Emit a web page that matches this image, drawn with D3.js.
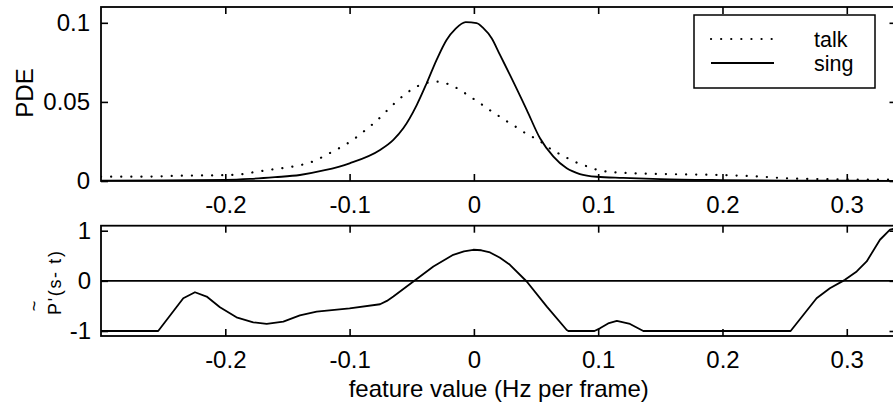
<!DOCTYPE html>
<html>
<head>
<meta charset="utf-8">
<script src="https://cdn.jsdelivr.net/npm/d3@7"></script>
<style>
  body { margin: 0; background: #fff; }
  svg { display: block; }
  text { font-family: "Liberation Sans", Arial, Helvetica, sans-serif; fill: #000; }
</style>
</head>
<body>
<div id="chart"></div>
<script>
var svgWidth = 893;
var svgHeight = 409;

// x ticks shared by both panels
var xTicks = [-0.2, -0.1, 0, 0.1, 0.2, 0.3];
var xTickLabels = ["-0.2", "-0.1", "0", "0.1", "0.2", "0.3"];

// top panel: PDE ticks
var pdeTicks = [0, 0.05, 0.1];
var pdeTickLabels = ["0", "0.05", "0.1"];

// bottom panel ticks
var diffTicks = [-1, 0, 1];
var diffTickLabels = ["-1", "0", "1"];

// talk (dotted)
var talkX = [-0.30, -0.26, -0.239, -0.20, -0.185, -0.1746, -0.1556, -0.145, -0.137, -0.128, -0.120,
  -0.1117, -0.1037, -0.0957, -0.0882, -0.0815, -0.0742, -0.0675, -0.0608, -0.0536, -0.046,
  -0.0372, -0.0286, -0.0192, -0.0112, -0.0032, 0.0049, 0.0124, 0.020, 0.0282, 0.0357, 0.0438,
  0.0518, 0.059, 0.067, 0.0755, 0.084, 0.092, 0.0995, 0.11, 0.128, 0.16, 0.198, 0.23, 0.2516,
  0.289, 0.34];
var talkPDE = [0.0027, 0.0028, 0.0033, 0.0037, 0.0045, 0.0059, 0.0080, 0.0092, 0.0105, 0.0128, 0.0160,
  0.0194, 0.0228, 0.0270, 0.0316, 0.0359, 0.0411, 0.0464, 0.0513, 0.0559, 0.0597,
  0.0622, 0.0628, 0.0608, 0.0576, 0.0534, 0.0492, 0.0450, 0.0411, 0.0369, 0.0333, 0.0291,
  0.0260, 0.0217, 0.0179, 0.0144, 0.0112, 0.0090, 0.0070, 0.0057, 0.0049, 0.0043, 0.0038, 0.0028, 0.0017,
  0.0011, 0.0008];

// sing (solid)
var singX = [-0.30, -0.25, -0.20, -0.18, -0.16, -0.14, -0.12, -0.10, -0.0755, -0.0648, -0.0568,
  -0.046, -0.038, -0.030, -0.022, -0.015, -0.0066, 0.0022, 0.0076, 0.0143, 0.021, 0.029,
  0.0425, 0.0532, 0.064, 0.0747, 0.0853, 0.0988, 0.12, 0.15, 0.20, 0.25, 0.30, 0.34];
var singPDE = [0.0002, 0.0004, 0.0007, 0.0013, 0.0024, 0.0038, 0.0068, 0.0112, 0.0196, 0.0260, 0.0333,
  0.0480, 0.0618, 0.0766, 0.0892, 0.0960, 0.1004, 0.0998, 0.0966, 0.0903, 0.0797, 0.0671,
  0.0450, 0.0270, 0.0154, 0.0080, 0.0044, 0.0027, 0.0020, 0.0012, 0.0006, 0.0003, 0.0002, 0.0001];

// bottom panel curve
var diffX = [-0.30, -0.254, -0.2338, -0.2244, -0.215, -0.2043, -0.191, -0.1775, -0.1667, -0.1533,
  -0.140, -0.1265, -0.10, -0.0755, -0.07, -0.0648, -0.0487, -0.0326, -0.0166, -0.008, -0.0005,
  0.006, 0.013, 0.021, 0.029, 0.0425, 0.0587, 0.0747, 0.076, 0.097, 0.1014, 0.108, 0.115, 0.1256,
  0.1363, 0.2548, 0.2757, 0.2864, 0.2985, 0.308, 0.316, 0.3267, 0.3348, 0.34];
var diffY = [-1, -1, -0.346, -0.227, -0.313, -0.527, -0.727, -0.827, -0.86, -0.813,
  -0.69, -0.613, -0.547, -0.467, -0.40, -0.313, -0.013, 0.287, 0.52, 0.59, 0.62,
  0.61, 0.567, 0.46, 0.32, -0.013, -0.513, -0.98, -1, -1, -0.947, -0.85, -0.8, -0.86,
  -1, -1, -0.346, -0.147, 0.02, 0.187, 0.387, 0.82, 1.02, 1.05];

var seriesNames = ["talk", "sing"];

var svg = d3.select("#chart")
  .append("svg")
  .attr("width", svgWidth)
  .attr("height", svgHeight);

var xScale = d3.scaleLinear()
  .domain([-0.3, 0.34])
  .range([101, 896.5]);

var yTop = d3.scaleLinear()
  .domain([0, 0.11])
  .range([181, 7]);

var yBot = d3.scaleLinear()
  .domain([-1.1, 1.1])
  .range([336, 225.7]);

var fontSize = 24;

function drawFrame(yScale, yTicks, yLabels, yPad) {
  var y0 = yScale.range()[0], y1 = yScale.range()[1];
  var x0 = xScale.range()[0], x1 = xScale.range()[1];

  var bottom = svg.append("g")
    .attr("transform", `translate(0, ${y0})`)
    .call(d3.axisBottom(xScale).tickValues(xTicks).tickSize(-7).tickPadding(15)
      .tickFormat((d, i) => xTickLabels[i]));
  var top = svg.append("g")
    .attr("transform", `translate(0, ${y1})`)
    .call(d3.axisTop(xScale).tickValues(xTicks).tickSize(-7).tickFormat(""));
  var left = svg.append("g")
    .attr("transform", `translate(${x0}, 0)`)
    .call(d3.axisLeft(yScale).tickValues(yTicks).tickSize(-7).tickPadding(yPad)
      .tickFormat((d, i) => yLabels[i]));
  var right = svg.append("g")
    .attr("transform", `translate(${x1}, 0)`)
    .call(d3.axisRight(yScale).tickValues(yTicks).tickSize(-7).tickFormat(""));

  [bottom, top, left, right].forEach(function(g) {
    g.select(".domain").remove();
    g.selectAll(".tick line").attr("stroke", "#000").attr("stroke-width", 1.6);
    g.selectAll("text")
      .attr("font-size", fontSize)
      .attr("font-family", "'Liberation Sans', Arial, Helvetica, sans-serif")
      .attr("fill", "#000");
  });

  svg.append("rect")
    .attr("x", x0)
    .attr("y", y1)
    .attr("width", x1 - x0)
    .attr("height", y0 - y1)
    .attr("fill", "none")
    .attr("stroke", "#000")
    .attr("stroke-width", 1.8);
}

drawFrame(yTop, pdeTicks, pdeTickLabels, 11);
drawFrame(yBot, diffTicks, diffTickLabels, 10);

// clip for curves
svg.append("clipPath").attr("id", "clipTop")
  .append("rect").attr("x", 101).attr("y", 7).attr("width", 795.5).attr("height", 174);
svg.append("clipPath").attr("id", "clipBot")
  .append("rect").attr("x", 101).attr("y", 225.7).attr("width", 795.5).attr("height", 110.3);

var talkLine = d3.line()
  .x((d, i) => xScale(talkX[i]))
  .y(d => yTop(d))
  .curve(d3.curveMonotoneX);

var singLine = d3.line()
  .x((d, i) => xScale(singX[i]))
  .y(d => yTop(d))
  .curve(d3.curveMonotoneX);

svg.append("path")
  .datum(talkPDE)
  .attr("clip-path", "url(#clipTop)")
  .attr("d", talkLine)
  .attr("fill", "none")
  .attr("stroke", "#000")
  .attr("stroke-width", 2.2)
  .attr("stroke-linecap", "round")
  .attr("stroke-dasharray", "0.1 10");

svg.append("path")
  .datum(singPDE)
  .attr("clip-path", "url(#clipTop)")
  .attr("d", singLine)
  .attr("fill", "none")
  .attr("stroke", "#000")
  .attr("stroke-width", 1.8);

// zero line in bottom panel
svg.append("line")
  .attr("x1", xScale.range()[0])
  .attr("x2", xScale.range()[1])
  .attr("y1", yBot(0))
  .attr("y2", yBot(0))
  .attr("stroke", "#000")
  .attr("stroke-width", 1.6);

var diffLine = d3.line()
  .x((d, i) => xScale(diffX[i]))
  .y(d => yBot(d));

svg.append("path")
  .datum(diffY)
  .attr("clip-path", "url(#clipBot)")
  .attr("d", diffLine)
  .attr("fill", "none")
  .attr("stroke", "#000")
  .attr("stroke-width", 1.8)
  .attr("stroke-linejoin", "round");

// axis labels
svg.append("text")
  .attr("transform", "translate(33, 93) rotate(-90)")
  .attr("text-anchor", "middle")
  .attr("font-size", fontSize)
  .text("PDE");

svg.append("text")
  .attr("transform", "translate(61, 283) rotate(-90)")
  .attr("text-anchor", "middle")
  .attr("font-size", 18)
  .attr("textLength", 64)
  .attr("lengthAdjust", "spacing")
  .text("P'(s- t)");

svg.append("text")
  .attr("transform", "translate(40, 306) rotate(-90)")
  .attr("text-anchor", "middle")
  .attr("font-size", 18)
  .text("~");

svg.append("text")
  .attr("x", (xScale.range()[0] + xScale.range()[1]) / 2)
  .attr("y", 397)
  .attr("text-anchor", "middle")
  .attr("font-size", fontSize)
  .text("feature value (Hz per frame)");

// legend
var legend = svg.append("g");
legend.append("rect")
  .attr("x", 694)
  .attr("y", 15)
  .attr("width", 181)
  .attr("height", 73)
  .attr("fill", "#fff")
  .attr("stroke", "#000")
  .attr("stroke-width", 1.5);

legend.selectAll("line.key")
  .data(seriesNames)
  .enter()
  .append("line")
  .attr("class", "key")
  .attr("x1", 711)
  .attr("x2", 774)
  .attr("y1", (d, i) => 39 + i * 24)
  .attr("y2", (d, i) => 39 + i * 24)
  .attr("stroke", "#000")
  .attr("stroke-width", (d, i) => i === 0 ? 2.2 : 1.8)
  .attr("stroke-linecap", (d, i) => i === 0 ? "round" : "butt")
  .attr("stroke-dasharray", (d, i) => i === 0 ? "0.1 10" : null);

legend.selectAll("text.key")
  .data(seriesNames)
  .enter()
  .append("text")
  .attr("class", "key")
  .attr("x", 814)
  .attr("y", (d, i) => 47 + i * 24)
  .attr("font-size", 21.5)
  .text(d => d);
</script>
</body>
</html>
